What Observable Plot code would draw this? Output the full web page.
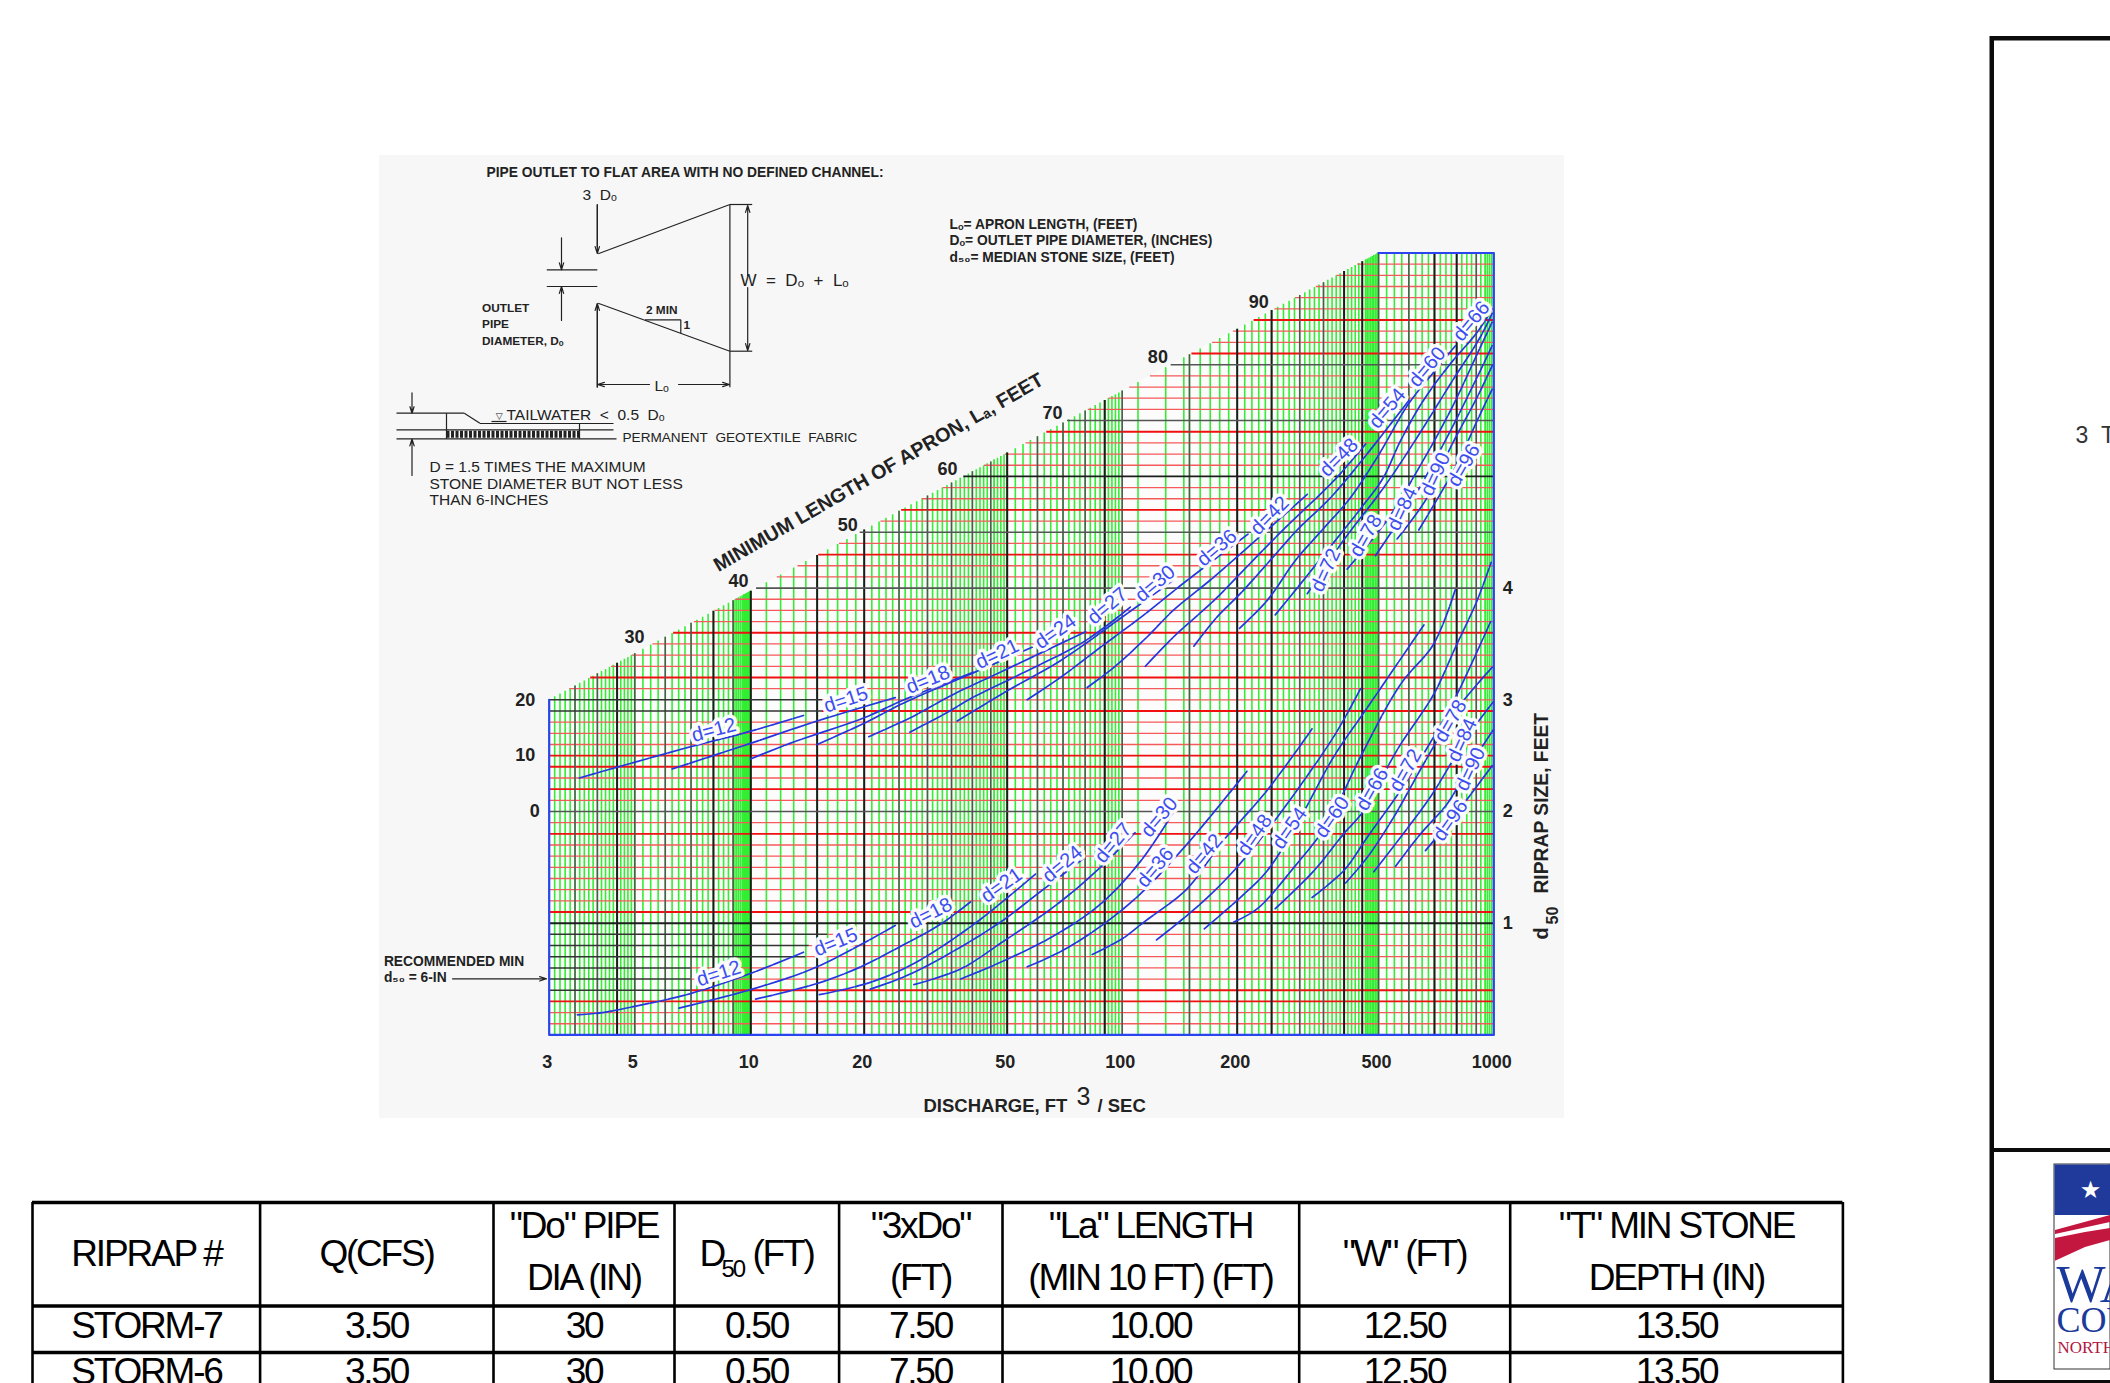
<!DOCTYPE html><html><head><meta charset="utf-8">
<script src="https://cdn.jsdelivr.net/npm/d3@7"></script>
<script src="https://cdn.jsdelivr.net/npm/@observablehq/plot@0.6"></script>
<style>html,body{margin:0;padding:0;background:#fff;overflow:hidden;width:2110px;height:1383px}
#page{position:relative;width:2110px;height:1383px;overflow:hidden}
#page svg{position:absolute;left:0;top:0;max-width:none}</style>
</head><body><div id="page"></div>
<script>
// ---- scales ----
const xDomain=[3,10,20,50,100,200,500,1000];
const xRange=[548.7,750.3,863.7,1006.7,1121.7,1236.7,1378,1493.3];
const yDomain=[0,7];
const yRange=[1034.4,252.5];
const W=2110,H=1383;

// ---- pipe diameters ----
const diameters=[12,15,18,21,24,27,30,36,42,48,54,60,66,72,78,84,90,96];

// ---- lower family: Q (cfs), d50 (ft) ----
const low12=[[3.55,.18],[4.12,.20],[5.07,.26],[6.98,.37],[9.98,.55],[13.8,.74]];
const low15=[[6.51,.24],[10.1,.41],[15,.61],[24.4,.98]];
const low18=[[10.3,.32],[15,.46],[19.6,.61],[25.5,.80],[32.6,.99],[39.5,1.19]];
const low21=[[15.2,.36],[20.8,.47],[27.5,.64],[40,.98],[59.3,1.44]];
const low24=[[20.8,.41],[25.8,.52],[33.3,.70],[47.9,1.01],[59.9,1.26],[79.3,1.58]];
const low27=[[27.5,.45],[37.1,.59],[47.9,.82],[67.6,1.17],[87.7,1.50],[108,1.81]];
const low30=[[37.1,.50],[47.9,.65],[64.9,.87],[87.7,1.17],[112,1.56],[136,1.99]];
const low36=[[56.4,.61],[67.6,.73],[84.3,.93],[109,1.23],[148,1.71],[213,2.36]];
const low42=[[83.5,.72],[100,.86],[114,1.01],[148,1.31],[181,1.71],[243,2.19],[325,2.74]];
const low48=[[123,.85],[160,1.17],[196,1.47],[243,1.83],[374,2.67],[445,3.10]];
const low54=[[164,.95],[204,1.23],[243,1.47],[295,1.89],[374,2.49],[465,2.93],[657,3.67]];
const low60=[[196,1.01],[228,1.13],[289,1.50],[359,1.89],[445,2.49],[571,3.14],[697,3.50],[794,3.99]];
const low66=[[256,1.13],[329,1.47],[399,1.80],[455,2.01],[559,2.55],[697,3.05],[794,3.47],[905,3.89],[984,4.23]];
const low72=[[325,1.23],[399,1.47],[465,1.77],[571,2.19],[697,2.67],[802,3.05],[984,3.71]];
const low78=[[404,1.36],[465,1.59],[548,1.95],[657,2.43],[794,2.90],[990,3.29]];
const low84=[[485,1.46],[571,1.77],[683,2.13],[802,2.52],[905,2.79],[996,2.98]];
const low90=[[554,1.51],[644,1.80],[756,2.07],[852,2.37],[996,2.73]];
const low96=[[663,1.65],[771,1.92],[852,2.11],[990,2.41]];

// ---- upper family: Q (cfs), same vertical axis ----
const up12=[[3.59,2.30],[4.33,2.38],[6.98,2.58],[9.79,2.71],[13.8,2.86]];
const up15=[[6.25,2.38],[9.98,2.61],[15,2.81],[24.4,3.02]];
const up18=[[9.98,2.47],[12.7,2.61],[20,2.84],[25.8,3.00],[40.4,3.25]];
const up21=[[15,2.60],[20,2.79],[25.7,2.97],[39.5,3.23],[58.1,3.47]];
const up24=[[20.6,2.67],[26.9,2.84],[35.5,3.05],[48.8,3.26],[80.2,3.61]];
const up27=[[26.8,2.71],[34.2,2.89],[39.5,3.01],[54.2,3.23],[80.2,3.53],[105,3.83]];
const up30=[[36.3,2.81],[50,3.08],[68.9,3.35],[99,3.73],[136,4.07]];
const up36=[[56.4,3.00],[68.9,3.20],[87.7,3.47],[112,3.74],[148,4.07],[216,4.49]];
const up42=[[81,3.11],[95.1,3.29],[116,3.56],[136,3.80],[174,4.10],[243,4.52],[315,4.84]];
const up48=[[115,3.30],[136,3.56],[174,3.89],[204,4.13],[271,4.53],[374,4.96],[460,5.29]];
const up54=[[154,3.48],[177,3.74],[204,3.95],[248,4.25],[295,4.52],[374,4.84],[600,5.68]];
const up60=[[203,3.64],[243,3.89],[292,4.25],[347,4.52],[417,4.81],[500,5.19],[599,5.65],[696,5.93],[794,6.17]];
const up66=[[256,3.76],[302,4.04],[347,4.28],[399,4.52],[455,4.75],[515,4.99],[571,5.32],[655,5.68],[771,6.01],[905,6.29],[990,6.50]];
const up72=[[315,3.95],[399,4.43],[516,4.90],[631,5.35],[771,5.83],[923,6.25],[990,6.46]];
const up78=[[408,4.17],[527,4.61],[631,5.05],[771,5.59],[923,6.16],[990,6.38]];
const up84=[[490,4.29],[618,4.81],[771,5.41],[923,5.95],[990,6.17]];
const up90=[[559,4.44],[670,4.81],[771,5.26],[905,5.71],[990,5.99]];
const up96=[[637,4.52],[802,5.11],[905,5.50],[990,5.78]];

const lowCurves=[low12,low15,low18,low21,low24,low27,low30,low36,low42,low48,low54,low60,low66,low72,low78,low84,low90,low96];
const upCurves=[up12,up15,up18,up21,up24,up27,up30,up36,up42,up48,up54,up60,up66,up72,up78,up84,up90,up96];

// ---- curve label anchors ----
const lowLabelAt=[[8.26,.55],[16.8,.83],[30.6,1.09],[48.2,1.34],[69.7,1.53],[94.7,1.72],[125,1.95],[122,1.50],[164,1.62],[224,1.79],[281,1.85],[370,1.95],[480,2.20],[588,2.37],[771,2.81],[827,2.64],[869,2.38],[771,1.92]];
const lowLabelAngle=[-18,-22,-27,-35,-40,-50,-50,-50,-50,-55,-55,-55,-60,-60,-60,-65,-65,-55];
const upLabelAt=[[8.02,2.73],[17.9,3.00],[30.1,3.18],[46.9,3.41],[66.9,3.61],[91.4,3.84],[122,4.04],[177,4.36],[247,4.65],[387,5.17],[527,5.61],[670,5.98],[873,6.39],[355,4.16],[460,4.47],[577,4.71],[704,5.02],[835,5.10]];
const upLabelAngle=[-15,-18,-22,-25,-35,-40,-40,-40,-45,-45,-50,-50,-50,-65,-60,-65,-65,-60];

// ---- axes ----
const xTicks=[3,5,10,20,50,100,200,500,1000];
const dTicks=[1,2,3,4];
const laLeftTicks=[0,10,20];
const laLeftQ=[2.75,2.6,2.6];
const laSlantTicks=[30,40,50,60,70,80,90];
const laSlantQ=[4.99,9.29,18.1,34.1,65.7,124,230];

// ---- grid of the log paper ----
const greenSpans=[[3,5,.1],[5,9,.25],[9,9.6,.1],[9.6,10,.05],[10,46,1],[46,50,1],[50,90,2.5],[90,100,2],[110,110,1],[130,130,1],[145,145,1],[150,460,10],[460,500,5],[500,950,25],[950,1000,12.5]];
const vDark=[4.5,8,10,15,20,50,90,200,250,400,450,700,800];
const vGray=[3.5,4,5,6,7,9,25,30,35,40,45,60,70,80,100,150,300,350,500,600,900];
const hThick=[.3,.4,1.1,1.8,2.2,2.4,2.5,2.9,3.2,3.6,4.3,4.7,5.4,6.1,6.4];
const hBlack=[1,5];
const hGray=[2,4,4.5,5.5,6];
const hPartial=[[.4,7],[.5,7],[.6,7],[.7,14],[.8,14.3],[.9,16],[2.9,15.5],[3,15.5]];
const hSteps=d3.range(1,70).map(i=>i/10);

// slanted upper-left limit of the paper
const slantFrom=[3,3],slantTo=[500,7];
const xOpts={type:"log",domain:xDomain,range:xRange};
const xs=Plot.scale({x:xOpts});
const px0=xs.apply(slantFrom[0]),px1=xs.apply(slantTo[0]);
const edge=q=>Math.min(7,3+4*(xs.apply(q)-px0)/(px1-px0));
const leftOf=v=>v<=3?3:xs.invert(px0+(v-3)/4*(px1-px0));
const green=greenSpans.flatMap(([a,b,s])=>a===b?[a]:d3.range(a,b+1e-9,s));
const partialEnd=new Map(hPartial);
const isSpecial=v=>hBlack.includes(v)||hGray.includes(v);
const redRows=hSteps.filter(v=>!isSpecial(v)).map(v=>({v,x1:Math.max(leftOf(v),partialEnd.get(v)||0),thick:hThick.includes(v)}));

const rowsOf=(list,tag)=>list.flatMap((c,i)=>c.map(([q,v])=>({q,v,id:tag+diameters[i]})));
const curveRows=[...rowsOf(lowCurves,"l"),...rowsOf(upCurves,"u")];
const labelsOf=(at,ang)=>at.map(([q,v],i)=>({q,v,a:ang[i],t:"d="+diameters[i]}));
const labelRows=[...labelsOf(lowLabelAt,lowLabelAngle),...labelsOf(upLabelAt,upLabelAngle)];
const sans="'Liberation Sans',Arial,sans-serif";
const tickStyle={fontFamily:sans,fontWeight:"bold",fontSize:18,fill:"#222"};

const mainPlot=Plot.plot({
  width:W,height:H,marginLeft:0,marginRight:0,marginTop:0,marginBottom:0,
  style:{background:"transparent"},
  x:{...xOpts,axis:null},y:{domain:yDomain,range:yRange,axis:null},
  marks:[
    Plot.areaY([{q:3,v:3},{q:500,v:7},{q:1000,v:7}],{x:"q",y1:0,y2:"v",fill:"#fcfcfc"}),
    Plot.ruleX(green,{x:d=>d,y1:0,y2:edge,stroke:"#33ee33",strokeWidth:1.6}),
    Plot.ruleY(redRows.filter(d=>!d.thick),{y:"v",x1:"x1",x2:1000,stroke:"#f45a5a",strokeWidth:1.3}),
    Plot.ruleY(redRows.filter(d=>d.thick),{y:"v",x1:"x1",x2:1000,stroke:"#f01010",strokeWidth:1.9}),
    Plot.ruleX(vGray,{x:d=>d,y1:0,y2:edge,stroke:"#555",strokeWidth:1.5}),
    Plot.ruleX(vDark,{x:d=>d,y1:0,y2:edge,stroke:"#1c1c1c",strokeWidth:2}),
    Plot.ruleY(hPartial,{y:d=>d[0],x1:d=>leftOf(d[0]),x2:d=>d[1],stroke:"#333",strokeWidth:1.5}),
    Plot.ruleY(hGray,{y:d=>d,x1:leftOf,x2:1000,stroke:"#555",strokeWidth:1.6}),
    Plot.ruleY(hBlack,{y:d=>d,x1:leftOf,x2:1000,stroke:"#1c1c1c",strokeWidth:1.9}),
    Plot.line([{q:3,v:3},{q:3,v:0},{q:1000,v:0},{q:1000,v:7},{q:500,v:7}],{x:"q",y:"v",stroke:"#2a44f0",strokeWidth:2.2}),
    Plot.line(curveRows,{x:"q",y:"v",z:"id",stroke:"#2535e0",strokeWidth:1.7,strokeDasharray:"17 1.5",curve:"catmull-rom"}),
    Plot.text(labelRows,{x:"q",y:"v",text:"t",rotate:"a",fontFamily:"'Liberation Sans Narrow','Liberation Sans',sans-serif",fontSize:20,fill:"#3d4df0",stroke:"white",strokeWidth:7,strokeOpacity:.95,paintOrder:"stroke"}),
    Plot.text(xTicks,{x:d=>d,y:-0.245,text:d=>String(d),dx:-2,...tickStyle}),
    Plot.text(dTicks,{x:1000,y:d=>d,text:d=>String(d),dx:14,...tickStyle}),
    Plot.text(laLeftTicks,{x:(d,i)=>laLeftQ[i],y:d=>2+d/20,text:d=>String(d),...tickStyle}),
    Plot.text(laSlantTicks,{x:(d,i)=>laSlantQ[i],y:d=>2+d/20,text:d=>String(d),dy:-7,...tickStyle}),
  ]
});

// ---- backdrop, schematic, title block ----
const idX={domain:[0,W],range:[0,W],axis:null},idY={domain:[0,H],range:[0,H],axis:null};
const panel=[[379,155,1564,1118]];
const blockBars=[[1989.5,36,1994,1383],[1990,36,2110,40.5],[1990,1148,2110,1152],[1990,1380,2110,1383]];
const flagRect=[[2054,1164,2110,1369]];
const flagBlue=[[2054.5,1164.5,2110,1215]];
const segs=[
 [596.8,204,596.8,247],[596.8,303,596.8,386.7],[597.7,253.3,729.4,204],[597.7,302.7,729.4,350.7],[729.4,204,729.4,386.7],
 [729.4,204,751.7,204],[729.4,350.7,751.7,350.7],[546.3,269.3,596.8,269.3],[546.3,286,596.8,286],
 [644.5,319.3,680.3,319.3],[680.3,319.3,680.3,332.7],
 [396,412.7,463.8,412.7],[463.8,412.7,479.4,422.7],[479.4,423,613,423],[396,429.3,613,429.3],[396,438.3,616,438.3],
 [446,412.7,446,438.3],[579,423,579,438.3],[491,421,506,421]];
const arrows=[
 [596.8,204,596.8,253],[596.8,386.7,596.8,303],[561,237.3,561,269.3],[561,320,561,286],
 [747.2,275,747.2,205],[747.2,287,747.2,350],[649,384,597,384],[678,384,729,384],
 [411.5,392.3,411.5,412.7],[411.5,475,411.5,438.5],[452,978.3,546,978.3]];
const boldTitle=[
 ["PIPE OUTLET TO FLAT AREA WITH NO DEFINED CHANNEL:",486,171.7],
 ["Lₒ= APRON LENGTH, (FEET)",949,224],["Dₒ= OUTLET PIPE DIAMETER, (INCHES)",949,240],["d₅₀= MEDIAN STONE SIZE, (FEET)",949,256.7],
 ["RECOMMENDED MIN",383.4,960.7],["d₅₀ = 6-IN",383.4,977.3]];
const boldSmall=[
 ["OUTLET",481.6,307.7],["PIPE",481.6,324],["DIAMETER, Dₒ",481.6,340.7],
 ["2 MIN",645.5,309.3],["1",683,325]];
const plainT=[
 ["3\u00a0\u00a0Dₒ",582,195],["Lₒ",654,386],
 ["TAILWATER\u00a0\u00a0<\u00a0\u00a00.5\u00a0\u00a0Dₒ",506,415],
 ["D = 1.5 TIMES THE MAXIMUM",429,466.7],["STONE DIAMETER BUT NOT LESS",429,483.3],["THAN 6-INCHES",429,500]];
const axisT=[["DISCHARGE, FT",923,1106],["/ SEC",1097,1106]];
const seg=(rows,o={})=>Plot.link(rows,{x1:d=>d[0],y1:d=>d[1],x2:d=>d[2],y2:d=>d[3],stroke:"#222",strokeWidth:1.2,...o});
const txt=(rows,o={})=>Plot.text(rows,{x:d=>d[1],y:d=>d[2],text:d=>d[0],textAnchor:"start",fontFamily:sans,fill:"#222",...o});
const box=(rows,o={})=>Plot.rect(rows,{x1:d=>d[0],y1:d=>d[1],x2:d=>d[2],y2:d=>d[3],...o});

const backPlot=Plot.plot({
  width:W,height:H,marginLeft:0,marginRight:0,marginTop:0,marginBottom:0,
  style:{background:"white"},x:idX,y:idY,
  marks:[
    box(panel,{fill:"#f7f7f7"}),
    box(blockBars,{fill:"#0c0c0c"}),
    box(flagRect,{fill:"white",stroke:"#333",strokeWidth:1}),
    box(flagBlue,{fill:"#1f3a9a"}),
    Plot.text(["★"],{x:2090,y:1190,text:d=>d,fontSize:24,fill:"white",fontFamily:"'DejaVu Sans'"}),
    Plot.areaY([[2055,1230,1234],[2110,1215,1222]],{x:d=>d[0],y1:d=>d[1],y2:d=>d[2],fill:"#c4173f"}),
    Plot.areaY([[2055,1238,1260.7],[2085,1232,1247],[2110,1228,1240]],{x:d=>d[0],y1:d=>d[1],y2:d=>d[2],fill:"#c4173f"}),
    txt([["WA",2056,1285]],{fontFamily:"'Liberation Serif',serif",fontSize:52,fill:"#1a3a9c"}),
    txt([["COUNTY",2056,1320]],{fontFamily:"'Liberation Serif',serif",fontSize:36,fill:"#1a3a9c"}),
    txt([["NORTH",2057,1347]],{fontFamily:"'Liberation Serif',serif",fontSize:17,fill:"#b0173f"}),
    txt([["3\u00a0\u00a0T",2075,435]],{fontSize:23,fill:"#333",fontWeight:300}),
    seg(segs),
    seg([[446,433.7,579,433.7]],{strokeWidth:7,strokeDasharray:"3 1.5",stroke:"#222"}),
    Plot.arrow(arrows,{x1:d=>d[0],y1:d=>d[1],x2:d=>d[2],y2:d=>d[3],stroke:"#222",strokeWidth:1.2,headLength:9,headAngle:35}),
    Plot.text(["▽"],{x:498.6,y:416,text:d=>d,fontSize:9,fill:"#222",fontFamily:"'DejaVu Sans'"}),
    txt(boldTitle,{fontWeight:"bold",fontSize:13.8}),
    txt(boldSmall,{fontWeight:"bold",fontSize:11.8}),
    txt(plainT,{fontSize:15.5}),
    txt([["W\u00a0\u00a0=\u00a0\u00a0Dₒ\u00a0\u00a0+\u00a0\u00a0Lₒ",740,280]],{fontSize:17}),
    txt([["PERMANENT\u00a0\u00a0GEOTEXTILE\u00a0\u00a0FABRIC",622,437]],{fontSize:13.6}),
    txt(axisT,{fontWeight:"bold",fontSize:18.5}),
    txt([["3",1076,1096]],{fontSize:25}),
    txt([["MINIMUM LENGTH OF APRON, Lₐ, FEET",878,472]],{textAnchor:"middle",fontWeight:"bold",fontSize:19.8,rotate:-30}),
    txt([["RIPRAP SIZE, FEET",1541,802.7]],{textAnchor:"middle",fontWeight:"bold",fontSize:19.3,rotate:-90}),
    txt([["d",1541,933]],{textAnchor:"middle",fontWeight:"bold",fontSize:20,rotate:-90}),
    txt([["50",1552,915]],{textAnchor:"middle",fontWeight:"bold",fontSize:16,rotate:-90}),
  ]
});

// ---- table ----
const colEdges=[32,259.6,493,674,838.6,1002,1298.7,1509.7,1842.4];
const rowEdges=[1202,1305.5,1352];
const colCenters=[146,376,583.5,756,920,1150,1404,1676];
const storm7=["STORM-7","3.50","30","0.50","7.50","10.00","12.50","13.50"];
const storm6=["STORM-6","3.50","30","0.50","7.50","10.00","12.50","13.50"];
const header1=["RIPRAP #","Q(CFS)",null,null,null,null,"\"W\" (FT)",null];
const headerTop=[null,null,"\"Do\" PIPE",null,"\"3xDo\"","\"La\" LENGTH",null,"\"T\" MIN STONE"];
const headerBottom=[null,null,"DIA (IN)",null,"(FT)","(MIN 10 FT) (FT)",null,"DEPTH (IN)"];
const cellsOf=(row,y)=>row.map((t,i)=>t&&[t,colCenters[i],y]).filter(Boolean);
const tablePlot=Plot.plot({
  width:W,height:H,marginLeft:0,marginRight:0,marginTop:0,marginBottom:0,
  style:{background:"transparent",letterSpacing:"-2.2px"},x:idX,y:idY,
  marks:[
    Plot.ruleX(colEdges,{x:d=>d,y1:1202,y2:H,stroke:"#000",strokeWidth:2.6}),
    Plot.ruleY(rowEdges,{y:d=>d,x1:32,x2:1842.4,stroke:"#000",strokeWidth:3.4}),
    txt([...cellsOf(header1,1254),...cellsOf(headerTop,1226),...cellsOf(headerBottom,1278),...cellsOf(storm7,1326),...cellsOf(storm6,1372)],{textAnchor:"middle",fontSize:37,fill:"#000"}),
    txt([["D",699,1254],["(FT)",752,1254]],{fontSize:37,fill:"#000"}),
    txt([["50",721,1269]],{fontSize:24,fill:"#000"}),
  ]
});
const page=document.getElementById("page");
page.append(backPlot,mainPlot,tablePlot);
</script></body></html>
